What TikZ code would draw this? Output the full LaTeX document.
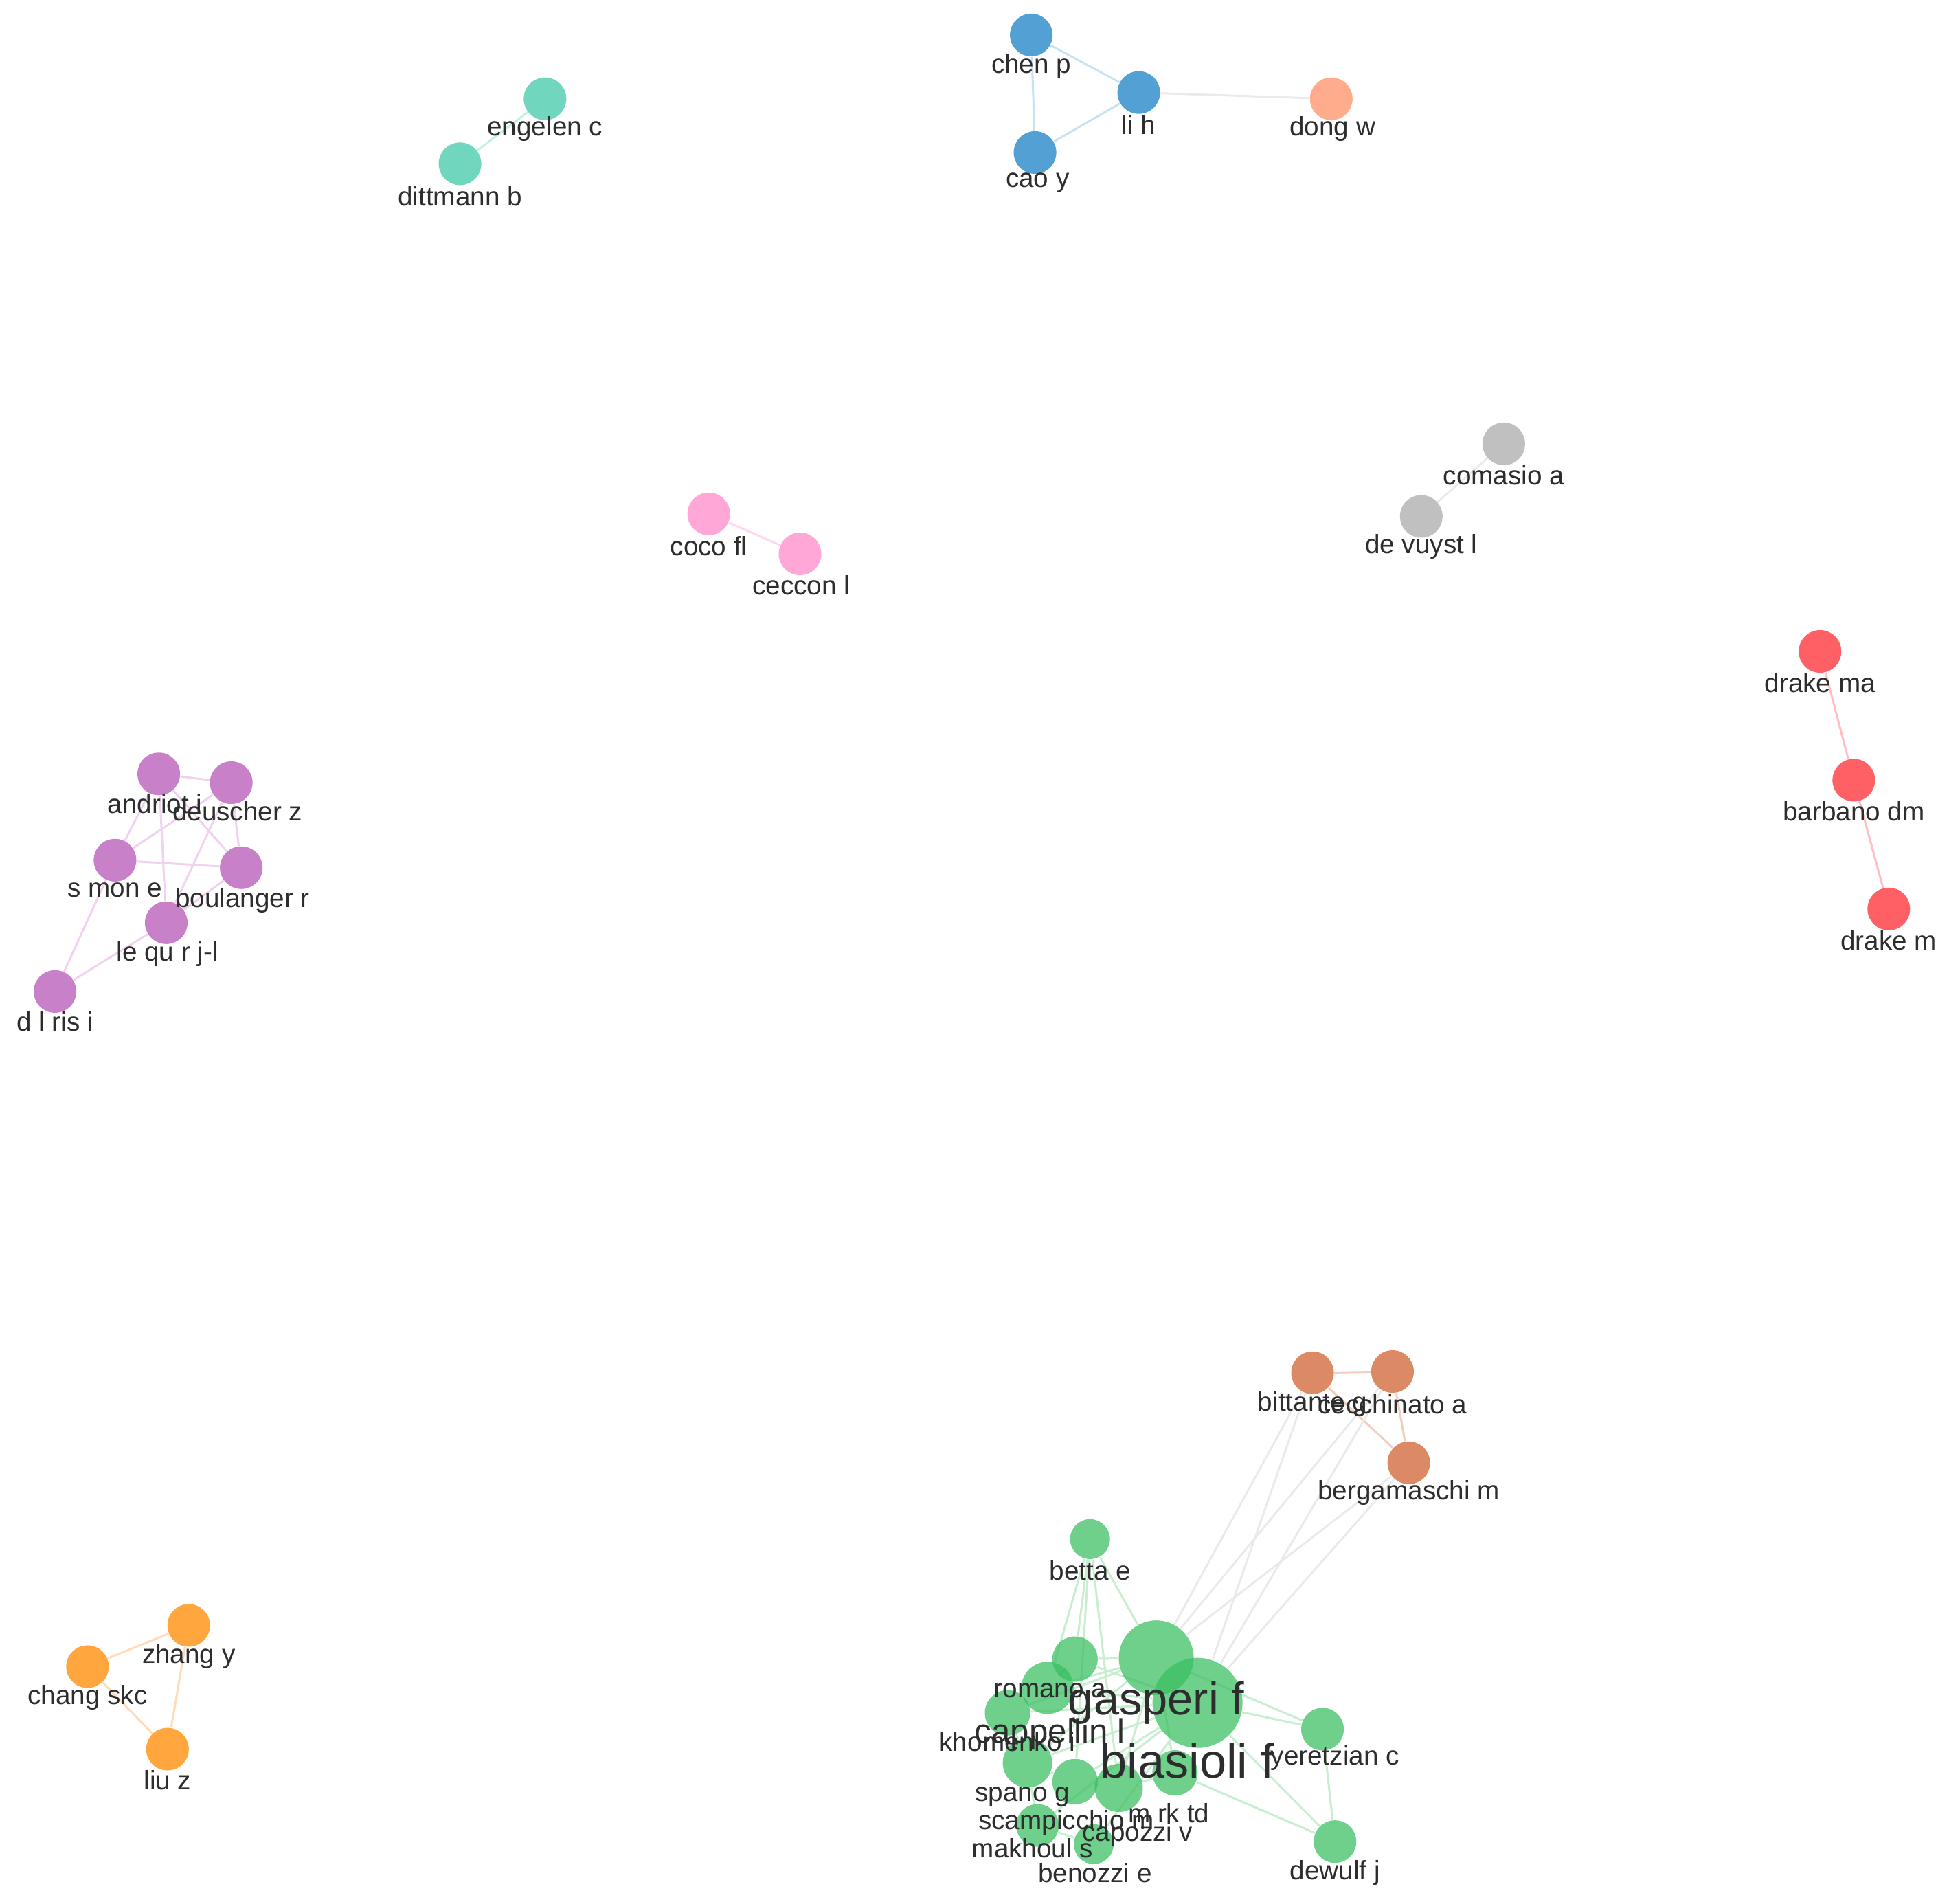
\documentclass[tikz,border=0pt]{standalone}
\usepackage{fontspec}
\setmainfont{Liberation Sans}
\usetikzlibrary{backgrounds}
\definecolor{labc}{RGB}{45,45,45}
\definecolor{cteal}{RGB}{112,214,189}\definecolor{eteal}{RGB}{195,240,228}
\definecolor{cblue}{RGB}{82,160,212}\definecolor{eblue}{RGB}{198,226,243}
\definecolor{csalm}{RGB}{255,172,140}
\definecolor{cgray}{RGB}{192,192,192}\definecolor{egray}{RGB}{234,234,234}
\definecolor{cpink}{RGB}{255,168,216}\definecolor{epink}{RGB}{255,215,238}
\definecolor{cred}{RGB}{255,96,102}\definecolor{ered}{RGB}{255,190,193}
\definecolor{cpurp}{RGB}{200,128,200}\definecolor{epurp}{RGB}{240,210,240}
\definecolor{corng}{RGB}{255,166,62}\definecolor{eorng}{RGB}{255,220,182}
\definecolor{cbrwn}{RGB}{220,137,102}\definecolor{ebrwn}{RGB}{244,205,188}
\definecolor{cgrn}{RGB}{55,190,95}\definecolor{egrn}{RGB}{198,238,207}
\tikzset{
  au/.style={circle, inner sep=0pt, draw=none, minimum size=0.62cm},
  gn/.style={au, fill=cgrn, fill opacity=0.72},
  lab/.style={inner sep=0pt, text=labc, font=\fontsize{11}{13}\selectfont},
  edge/.style={line width=0.85pt},
}
\begin{document}
\begin{tikzpicture}[x=0.018195cm, y=-0.018195cm]
\useasboundingbox (0,0) rectangle (1568,1521);

% teal
\node[au, fill=cteal] (engelen) at (436,79) {};
\node[au, fill=cteal] (dittmann) at (368,131) {};
% blue
\node[au, fill=cblue] (chenp) at (825,28) {};
\node[au, fill=cblue] (lih) at (911,74) {};
\node[au, fill=cblue] (caoy) at (828,122) {};
\node[au, fill=csalm] (dongw) at (1065,79) {};
% gray
\node[au, fill=cgray] (comasio) at (1203,355) {};
\node[au, fill=cgray] (devuyst) at (1137,413) {};
% pink
\node[au, fill=cpink] (coco) at (567,411) {};
\node[au, fill=cpink] (ceccon) at (640,443) {};
% red
\node[au, fill=cred] (drakema) at (1456,521) {};
\node[au, fill=cred] (barbano) at (1483,624) {};
\node[au, fill=cred] (drakem) at (1511,727) {};
% purple
\node[au, fill=cpurp] (andriot) at (127,619) {};
\node[au, fill=cpurp] (deuscher) at (185,626) {};
\node[au, fill=cpurp] (semon) at (92,688) {};
\node[au, fill=cpurp] (boulanger) at (193,694) {};
\node[au, fill=cpurp] (lequere) at (133,738) {};
\node[au, fill=cpurp] (deleris) at (44,793) {};
% orange
\node[au, fill=corng] (zhangy) at (151,1300) {};
\node[au, fill=corng] (changskc) at (70,1333) {};
\node[au, fill=corng] (liuz) at (134,1399) {};
% brown
\node[au, fill=cbrwn] (bittante) at (1050,1098) {};
\node[au, fill=cbrwn] (cecchinato) at (1114,1097) {};
\node[au, fill=cbrwn] (bergamaschi) at (1127,1170) {};
% green
\node[gn, minimum size=0.58cm] (betta) at (872,1231) {};
\node[gn, minimum size=1.09cm] (gasperi) at (925,1326) {};
\node[gn, minimum size=1.31cm] (biasioli) at (958,1362) {};
\node[gn, minimum size=0.66cm] (romano) at (860,1327) {};
\node[gn, minimum size=0.76cm] (cappellin) at (838,1350) {};
\node[gn, minimum size=0.66cm] (khomenko) at (806,1370) {};
\node[gn, minimum size=0.72cm] (spano) at (822,1410) {};
\node[gn, minimum size=0.66cm] (scampicchio) at (860,1425) {};
\node[gn, minimum size=0.66cm] (mark) at (940,1418) {};
\node[gn, minimum size=0.70cm] (capozzi) at (895,1430) {};
\node[gn, minimum size=0.62cm] (makhoul) at (830,1460) {};
\node[gn, minimum size=0.58cm] (benozzi) at (875,1475) {};
\node[gn, minimum size=0.62cm] (yeretzian) at (1058,1383) {};
\node[gn, minimum size=0.62cm] (dewulf) at (1068,1473) {};

\begin{scope}[on background layer]
\draw[edge, eteal] (engelen) -- (dittmann);
\draw[edge, eblue] (chenp) -- (lih) (chenp) -- (caoy) (caoy) -- (lih);
\draw[edge, egray] (lih) -- (dongw);
\draw[edge, egray] (comasio) -- (devuyst);
\draw[edge, epink] (coco) -- (ceccon);
\draw[edge, ered] (drakema) -- (barbano) (barbano) -- (drakem);
\draw[edge, epurp] (andriot) -- (deuscher) (andriot) -- (semon) (andriot) -- (boulanger)
  (andriot) -- (lequere) (deuscher) -- (semon) (deuscher) -- (boulanger)
  (deuscher) -- (lequere) (semon) -- (boulanger) (semon) -- (deleris)
  (boulanger) -- (lequere) (lequere) -- (deleris);
\draw[edge, eorng] (changskc) -- (zhangy) (changskc) -- (liuz) (zhangy) -- (liuz);
\draw[edge, ebrwn] (bittante) -- (cecchinato) (bittante) -- (bergamaschi) (cecchinato) -- (bergamaschi);
\draw[edge, egray] (bittante) -- (gasperi) (bittante) -- (biasioli)
  (cecchinato) -- (gasperi) (cecchinato) -- (biasioli)
  (bergamaschi) -- (gasperi) (bergamaschi) -- (biasioli);
\draw[edge, egrn] (betta) -- (romano) (betta) -- (cappellin) (betta) -- (scampicchio)
  (betta) -- (capozzi) (betta) -- (gasperi)
  (gasperi) -- (yeretzian) (biasioli) -- (yeretzian) (yeretzian) -- (dewulf)
  (biasioli) -- (dewulf) (mark) -- (dewulf)
  (gasperi) -- (romano) (gasperi) -- (cappellin) (gasperi) -- (khomenko)
  (gasperi) -- (spano) (gasperi) -- (capozzi) (gasperi) -- (mark)
  (biasioli) -- (romano) (biasioli) -- (cappellin) (biasioli) -- (khomenko)
  (biasioli) -- (spano) (biasioli) -- (scampicchio) (biasioli) -- (makhoul)
  (biasioli) -- (benozzi) (romano) -- (cappellin) (cappellin) -- (khomenko)
  (khomenko) -- (spano) (spano) -- (scampicchio) (scampicchio) -- (capozzi)
  (capozzi) -- (mark) (makhoul) -- (benozzi) (spano) -- (makhoul);
\end{scope}

% labels
\node[lab] (engelenL) at (436,103) {engelen c};
\node[lab] (dittmannL) at (368,157) {dittmann b};
\node[lab] (chenpL) at (825,53) {chen p};
\node[lab] (lihL) at (911,100) {li h};
\node[lab] (caoyL) at (830,146) {cao y};
\node[lab] (dongwL) at (1066,103) {dong w};
\node[lab] (comasioL) at (1203,380) {comasio a};
\node[lab] (devuystL) at (1137,437) {de vuyst l};
\node[lab] (cocoL) at (567,437) {coco fl};
\node[lab] (cecconL) at (641,468) {ceccon l};
\node[lab] (drakemaL) at (1456,546) {drake ma};
\node[lab] (barbanoL) at (1483,649) {barbano dm};
\node[lab] (drakemL) at (1511,752) {drake m};
\node[lab] (andriotL) at (124,643) {andriot i};
\node[lab] (deuscherL) at (190,649) {deuscher z};
\node[lab] (semonL) at (92,712) {s mon e};
\node[lab] (boulangerL) at (194,720) {boulanger r};
\node[lab] (lequereL) at (134,763) {le qu r j-l};
\node[lab] (delerisL) at (44,817) {d l ris i};
\node[lab] (zhangyL) at (151,1325) {zhang y};
\node[lab] (changskcL) at (70,1358) {chang skc};
\node[lab] (liuzL) at (134,1424) {liu z};
\node[lab] (bittanteL) at (1050,1123) {bittante g};
\node[lab] (cecchinatoL) at (1114,1123) {cecchinato a};
\node[lab] (bergamaschiL) at (1127,1194) {bergamaschi m};
\node[lab] (bettaL) at (872,1256) {betta e};
\node[lab] (romanoL) at (840,1352) {romano a};
\node[lab] (khomenkoL) at (806,1393) {khomenko i};
\node[lab] (spanoL) at (818,1437) {spano g};
\node[lab] (scampicchioL) at (853,1458) {scampicchio m};
\node[lab] (markL) at (935,1450) {m rk td};
\node[lab] (capozziL) at (910,1467) {capozzi v};
\node[lab] (makhoulL) at (826,1478) {makhoul s};
\node[lab] (benozziL) at (876,1498) {benozzi e};
\node[lab] (yeretzianL) at (1068,1406) {yeretzian c};
\node[lab] (dewulfL) at (1068,1498) {dewulf j};
\node[lab, font=\fontsize{14}{16}\selectfont] (cappellinL) at (840,1387) {cappellin l};
\node[lab, font=\fontsize{19}{22}\selectfont] (gasperiL) at (925,1362) {gasperi f};
\node[lab, font=\fontsize{20}{24}\selectfont] (biasioliL) at (950,1408) {biasioli f};
\end{tikzpicture}
\end{document}
